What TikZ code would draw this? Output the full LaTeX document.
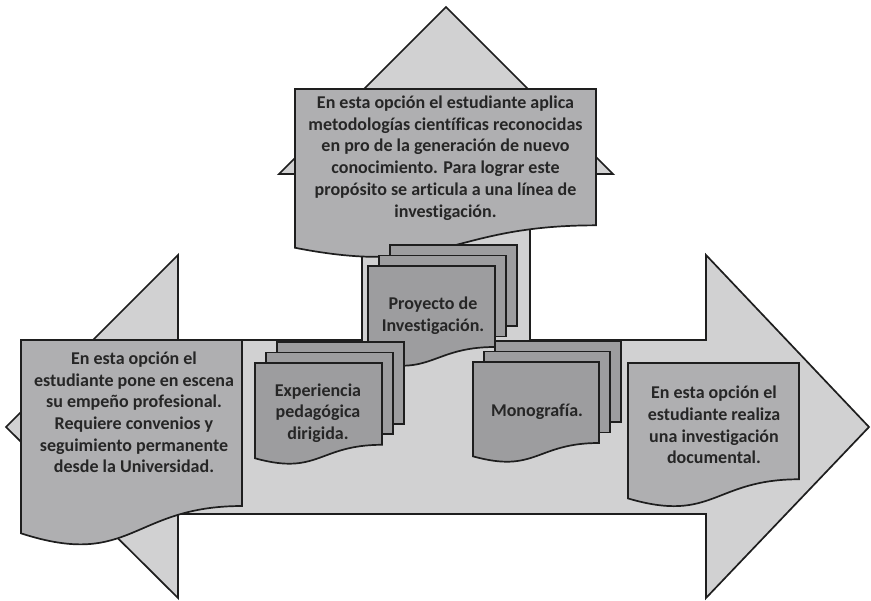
\documentclass[tikz,border=0pt]{standalone}
\usepackage{fontspec}
\setmainfont{Carlito}[Ligatures=NoCommon]
\definecolor{arrowfill}{HTML}{D1D1D2}
\definecolor{docfill}{HTML}{AFAFB1}
\definecolor{stackfill}{HTML}{9D9D9F}
\definecolor{edge}{HTML}{1E1E1E}
\definecolor{txt}{HTML}{262626}
\tikzset{
  outline/.style={draw=edge, line width=1.7pt, line join=miter},
  bigarrow/.style={outline, fill=arrowfill},
  singledoc/.style={outline, fill=docfill},
  stackdoc/.style={outline, fill=stackfill},
  doctext/.style={font=\bfseries\fontsize{18}{21.7}\selectfont, text=txt, align=center, inner sep=0pt}
}
\newcommand\docshape[5]{%
  \draw[#1] (#2,#3) -- ({#2+#4},#3) -- ({#2+#4},{#3+0.802*#5})
    .. controls ({#2+0.5*#4},{#3+0.802*#5}) and ({#2+0.5*#4},{#3+1.1075*#5}) ..
    (#2,{#3+0.934*#5}) -- cycle;}
% stack: x y w h (front doc), offsets 11 / 10.5
\newcommand\stackshape[4]{%
  \draw[stackdoc] ({#1+22},{#2-21}) rectangle ({#1+#3+22},{#2-21+0.802*#4});
  \draw[stackdoc] ({#1+11},{#2-10.5}) rectangle ({#1+#3+11},{#2-10.5+0.802*#4});
  \docshape{stackdoc}{#1}{#2}{#3}{#4}}
\begin{document}
\begin{tikzpicture}[x=1pt, y=-1pt]
\useasboundingbox (0,0) rectangle (871,601);
% three-way arrow
\draw[bigarrow] (446,7) -- (613,174) -- (530,174) -- (530,340) -- (706,340)
  -- (706,255) -- (869,427) -- (706,598) -- (706,514) -- (178,514) -- (178,598)
  -- (6,427) -- (178,255) -- (178,340) -- (362,340) -- (362,174) -- (279,174) -- cycle;
% single documents
\docshape{singledoc}{295}{89}{301}{170}
\docshape{singledoc}{21}{340}{221}{207}
\docshape{singledoc}{628}{363}{171}{145}
% stacked documents
\stackshape{368}{266}{127}{101}
\stackshape{255}{363}{127}{102}
\stackshape{473}{362}{126}{101}
% texts
\node[doctext] (top) at (445.5,158) {En esta opción el estudiante aplica\\metodologías científicas reconocidas\\en pro de la generación de nuevo\\conocimiento. Para lograr este\\propósito se articula a una línea de\\investigación.};
\node[doctext] (left) at (134,412.5) {En esta opción el\\estudiante pone en escena\\su empeño profesional.\\Requiere convenios y\\seguimiento permanente\\desde la Universidad.};
\node[doctext] (right) at (714,425) {En esta opción el\\estudiante realiza\\una investigación\\documental.};
\node[doctext] (proy) at (433,315.5) {Proyecto de\\Investigación.};
\node[doctext] (expe) at (318,413) {Experiencia\\pedagógica\\dirigida.};
\node[doctext] (mono) at (537,412) {Monografía.};
\end{tikzpicture}
\end{document}
